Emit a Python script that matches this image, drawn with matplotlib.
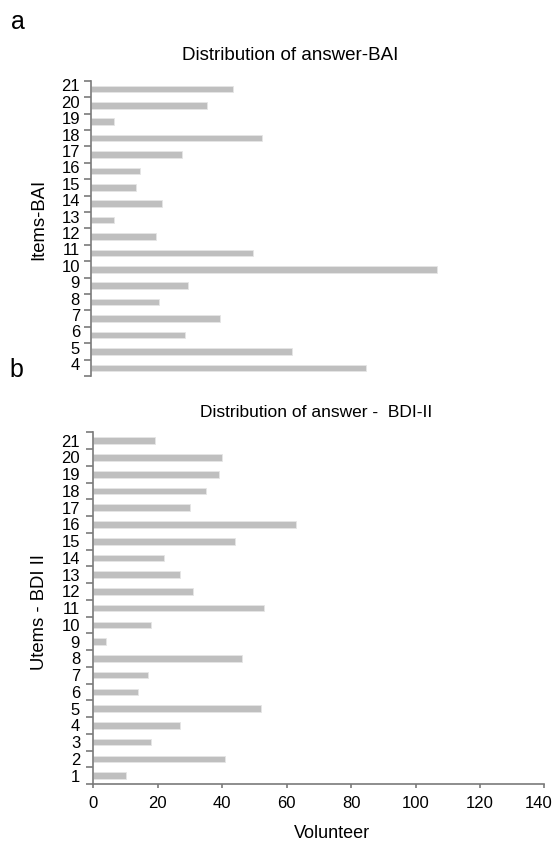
import matplotlib.pyplot as plt
import matplotlib.transforms as mtransforms
import numpy as np

plt.rcParams['font.family'] = ['Liberation Sans', 'DejaVu Sans']

# panel a - BAI items 4..21
bai_items = list(range(4, 22))
bai_counts = [85, 62, 29, 40, 21, 30, 107, 50, 20, 7, 22, 14, 15, 28, 53, 7, 36, 44]

# panel b - BDI-II items 1..21
bdi_items = list(range(1, 22))
bdi_counts = [10, 41, 18, 27, 52, 14, 17, 46, 4, 18, 53, 31, 27, 22, 44, 63, 30, 35, 39, 40, 19]

xticks = [0, 20, 40, 60, 80, 100, 120, 140]

bar_col = '#bfbfbf'
ax_col = '#7a7a7a'

W, H = 557, 841
fig = plt.figure(figsize=(W / 100, H / 100), dpi=100)


def box(x0, y0, x1, y1):
    # pixel box -> figure fraction
    return [x0 / W, 1 - y1 / H, (x1 - x0) / W, (y1 - y0) / H]


def style(ax, items, pad):
    for s in ['top', 'right']:
        ax.spines[s].set_visible(False)
    ax.spines['left'].set_color(ax_col)
    ax.spines['left'].set_linewidth(1.2)
    bounds = np.arange(min(items) - 0.5, max(items) + 1.0, 1.0)
    ax.set_yticks(bounds)
    ax.set_yticklabels([])
    ax.tick_params(axis='y', which='major', length=5, width=1.2, color=ax_col, direction='out')
    ax.tick_params(axis='y', which='minor', length=0, labelsize=12, pad=pad)


# top panel
ax1 = fig.add_axes(box(91, 80.7, 544, 376))
ax1.barh(bai_items, bai_counts, height=0.4, color=bar_col, edgecolor='#e6e6e6', linewidth=0.6)
ax1.set_xlim(0, 140)
ax1.set_ylim(3.74, 21.5)
style(ax1, bai_items, 8)
ax1.set_yticks([i + 0.22 for i in bai_items], minor=True)
ax1.set_yticklabels([str(i) for i in bai_items], minor=True)
ax1.spines['bottom'].set_visible(False)
ax1.set_xticks([])

# bottom panel
ax2 = fig.add_axes(box(93.3, 432.3, 544.5, 784))
ax2.barh(bdi_items, bdi_counts, height=0.4, color=bar_col, edgecolor='#e6e6e6', linewidth=0.6)
ax2.set_xlim(0, 140)
ax2.set_ylim(0.5, 21.5)
style(ax2, bdi_items, 9.5)
ax2.set_yticks(bdi_items, minor=True)
ax2.set_yticklabels([str(i) for i in bdi_items], minor=True)
ax2.spines['bottom'].set_color(ax_col)
ax2.spines['bottom'].set_linewidth(1.2)
ax2.set_xticks(xticks)
ax2.tick_params(axis='x', length=3, width=1.2, color=ax_col, labelsize=12, pad=6)
# last label sits a bit left so it stays inside
lab = ax2.get_xticklabels()[-1]
lab.set_transform(lab.get_transform() + mtransforms.ScaledTranslation(-4 / 72, 0, fig.dpi_scale_trans))

# texts
fig.text(18 / W, 1 - 22 / H, 'a', fontsize=18, ha='center', va='center')
fig.text(16.5 / W, 1 - 370 / H, 'b', fontsize=18, ha='center', va='center')
fig.text(290 / W, 1 - 55 / H, 'Distribution of answer-BAI', fontsize=13.5, ha='center', va='center')
fig.text(316 / W, 1 - 413 / H, 'Distribution of answer -  BDI-II', fontsize=12.5, ha='center', va='center')
fig.text(39 / W, 1 - 219 / H, 'Items-BAI', fontsize=13.3, rotation=90, ha='center', va='center')
fig.text(39 / W, 1 - 612 / H, 'Utems - BDI II', fontsize=13.3, rotation=90, ha='center', va='center')
fig.text(332 / W, 1 - 833 / H, 'Volunteer', fontsize=13, ha='center', va='center')

fig.savefig('out.png', dpi=100)
